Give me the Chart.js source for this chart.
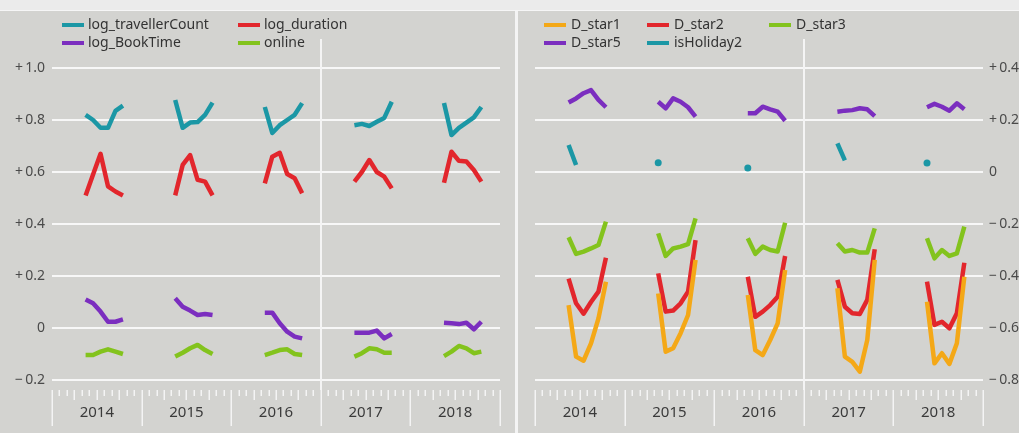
<!DOCTYPE html>
<html>
<head>
<meta charset="utf-8">
<script src="https://cdn.jsdelivr.net/npm/chart.js@4/dist/chart.umd.min.js"></script>
<style>
  html, body { margin: 0; padding: 0; }
  body { width: 1019px; height: 433px; overflow: hidden; position: relative; background: #d3d3d0; }
  #strip { position: absolute; left: 0; top: 0; width: 1019px; height: 10px; background: #ebebeb; border-bottom: 1px solid #f6f6f6; }
  #sep { position: absolute; left: 515px; top: 11px; width: 3px; height: 422px; background: #f4f4f4; }
  #cl { position: absolute; left: 0; top: 11px; }
  #cr { position: absolute; left: 517px; top: 11px; }
</style>
</head>
<body>
<div id="strip"></div>
<div id="sep"></div>
<canvas id="cl" width="512" height="422"></canvas>
<canvas id="cr" width="513" height="422"></canvas>
<script>
// ---------- data ----------
const years = [2014, 2015, 2016, 2017, 2018];
const months = [5, 6, 7, 8, 9, 10]; // May .. Oct
const leftTicks = [-0.2, 0, 0.2, 0.4, 0.6, 0.8, 1.0];
const rightTicks = [-0.8, -0.6, -0.4, -0.2, 0, 0.2, 0.4];
const markerYear = 2017;

const logTravellerCount = [
  [0.82, 0.80, 0.77, 0.77, 0.835, 0.855],
  [0.877, 0.77, 0.79, 0.792, 0.82, 0.867],
  [0.85, 0.75, 0.78, 0.80, 0.82, 0.865],
  [0.78, 0.785, 0.777, 0.793, 0.808, 0.87],
  [0.865, 0.742, 0.77, 0.79, 0.81, 0.85]
];
const logDuration = [
  [0.51, 0.59, 0.67, 0.545, 0.525, 0.51],
  [0.51, 0.627, 0.665, 0.57, 0.563, 0.51],
  [0.556, 0.659, 0.674, 0.592, 0.576, 0.518],
  [0.563, 0.60, 0.646, 0.60, 0.582, 0.537],
  [0.559, 0.678, 0.643, 0.64, 0.608, 0.563]
];
const logBookTime = [
  [0.11, 0.095, 0.063, 0.024, 0.024, 0.033],
  [0.114, 0.082, 0.067, 0.05, 0.054, 0.05],
  [0.059, 0.059, 0.018, -0.014, -0.033, -0.04],
  [-0.018, -0.018, -0.018, -0.01, -0.04, -0.023],
  [0.02, 0.018, 0.015, 0.02, -0.005, 0.024]
];
const online = [
  [-0.104, -0.104, -0.091, -0.082, -0.091, -0.1],
  [-0.11, -0.095, -0.078, -0.065, -0.085, -0.1],
  [-0.104, -0.095, -0.085, -0.082, -0.1, -0.104],
  [-0.11, -0.097, -0.078, -0.082, -0.095, -0.095],
  [-0.108, -0.091, -0.069, -0.078, -0.097, -0.091]
];

const dStar1 = [
  [-0.512, -0.71, -0.726, -0.659, -0.563, -0.422],
  [-0.467, -0.691, -0.678, -0.62, -0.55, -0.338],
  [-0.473, -0.685, -0.704, -0.646, -0.582, -0.377],
  [-0.447, -0.71, -0.73, -0.768, -0.646, -0.338],
  [-0.499, -0.736, -0.697, -0.738, -0.659, -0.403]
];
const dStar2 = [
  [-0.41, -0.505, -0.545, -0.50, -0.46, -0.33],
  [-0.39, -0.537, -0.533, -0.505, -0.46, -0.262],
  [-0.403, -0.557, -0.537, -0.512, -0.48, -0.323],
  [-0.415, -0.518, -0.543, -0.546, -0.492, -0.297],
  [-0.422, -0.588, -0.576, -0.601, -0.543, -0.349]
];
const dStar3 = [
  [-0.251, -0.315, -0.306, -0.294, -0.281, -0.191],
  [-0.236, -0.323, -0.294, -0.287, -0.277, -0.178],
  [-0.255, -0.315, -0.287, -0.3, -0.306, -0.195],
  [-0.274, -0.306, -0.3, -0.31, -0.31, -0.217],
  [-0.255, -0.332, -0.3, -0.323, -0.313, -0.21]
];
const dStar5 = [
  [0.267, 0.283, 0.303, 0.315, 0.277, 0.249],
  [0.27, 0.245, 0.283, 0.27, 0.249, 0.213],
  [0.226, 0.226, 0.251, 0.241, 0.232, 0.197],
  [0.232, 0.236, 0.238, 0.245, 0.241, 0.215],
  [0.249, 0.262, 0.251, 0.236, 0.264, 0.241]
];
const isHoliday2 = [
  [0.104, 0.027, null, null, null, null],
  [0.036, null, null, null, null, null],
  [0.015, null, null, null, null, null],
  [0.11, 0.045, null, null, null, null],
  [0.035, null, null, null, null, null]
];

// ---------- colours / fonts ----------
const C = { teal: '#1b97a5', red: '#e2262c', purple: '#7b2ebf', green: '#83c31d', orange: '#f4a817' };
const FONT = '"Noto Sans", "Open Sans", sans-serif';

function toPoints(series) {
  const pts = [];
  years.forEach((yr, yi) => {
    months.forEach((m, mi) => pts.push({ x: yr + (m - 0.5) / 12, y: series[yi][mi] }));
    pts.push({ x: yr + 0.999, y: null });
  });
  return pts;
}

function isolatedRadius(ctx) {
  const d = ctx.dataset.data, i = ctx.dataIndex;
  if (!d[i] || d[i].y == null) return 0;
  const pn = i === 0 || d[i - 1].y == null;
  const nn = i === d.length - 1 || d[i + 1].y == null;
  return (pn && nn) ? 3.5 : 0;
}

function ds(label, series, color) {
  return {
    label, data: toPoints(series), borderColor: color, backgroundColor: color,
    borderWidth: 4.5, pointRadius: isolatedRadius, pointHoverRadius: 0, pointBorderWidth: 0,
    borderJoinStyle: 'round', borderCapStyle: 'butt', spanGaps: false, tension: 0
  };
}

function fmt(v) {
  if (Math.abs(v) < 1e-9) return '0';
  return (v > 0 ? '+\u2009' : '\u2212\u2009') + Math.abs(v).toFixed(1);
}

const decor = {
  id: 'decor',
  beforeDatasetsDraw(chart) {
    const { ctx, chartArea } = chart;
    const xs = chart.scales.x;
    ctx.save();
    // vertical marker line
    ctx.strokeStyle = '#f4f4f4';
    ctx.lineWidth = 2;
    const mx = Math.round(xs.getPixelForValue(markerYear));
    ctx.beginPath(); ctx.moveTo(mx, 28); ctx.lineTo(mx, chartArea.bottom + 10); ctx.stroke();
    // month / quarter / year tick marks
    ctx.lineWidth = 1.5;
    ctx.strokeStyle = '#f4f4f4';
    const top = chartArea.bottom + 10;
    for (let yr = years[0]; yr <= years[years.length - 1] + 1; yr++) {
      for (let m = 0; m < 12; m++) {
        if (yr > years[years.length - 1] && m > 0) break;
        const x = Math.round(xs.getPixelForValue(yr + m / 12)) + 0.25;
        const len = m === 0 ? 36 : (m % 3 === 0 ? 10 : 6);
        ctx.beginPath(); ctx.moveTo(x, top); ctx.lineTo(x, top + len); ctx.stroke();
      }
    }
    ctx.restore();
  },
  afterDraw(chart, args, opts) {
    const { ctx } = chart;
    ctx.save();
    ctx.font = '14px ' + FONT;
    ctx.textBaseline = 'middle';
    chart.data.datasets.forEach((d, i) => {
      const col = i % opts.cols, row = Math.floor(i / opts.cols);
      const x = opts.colX[col], y = opts.rowY[row];
      ctx.fillStyle = d.borderColor;
      ctx.fillRect(x, y - 2, 22, 4);
      ctx.fillStyle = '#333';
      ctx.fillText(d.label, x + opts.textOff, y + 0.5);
    });
    ctx.restore();
  }
};

function makeChart(el, datasets, yTicks, yPos, padding, yWidth, legendOpts) {
  return new Chart(el, {
    type: 'line',
    data: { datasets },
    plugins: [decor],
    options: {
      responsive: false, animation: false, events: [],
      layout: { padding },
      plugins: { legend: { display: false }, tooltip: { enabled: false }, decor: legendOpts },
      scales: {
        x: {
          type: 'linear', min: years[0], max: years[years.length - 1] + 1,
          afterBuildTicks: s => { s.ticks = years.map(y => ({ value: y + 0.5 })); },
          afterFit: s => { s.height = 53; },
          grid: { display: false, drawTicks: false },
          border: { display: false },
          ticks: { callback: v => String(Math.round(v - 0.5)), color: '#3a3a3a', font: { family: FONT, size: 15 }, padding: 24, maxRotation: 0, autoSkip: false }
        },
        y: {
          position: yPos, min: yTicks[0], max: yTicks[yTicks.length - 1],
          afterBuildTicks: s => { s.ticks = yTicks.map(v => ({ value: v })); },
          afterFit: s => { s.width = yWidth; },
          grid: { color: '#f7f7f7', lineWidth: 2, drawTicks: false },
          border: { display: false },
          ticks: { callback: fmt, color: '#4a4a4a', font: { family: FONT, size: 14 }, padding: yPos === 'left' ? 7 : 6 }
        }
      }
    }
  });
}

makeChart(document.getElementById('cl'), [
  ds('log_travellerCount', logTravellerCount, C.teal),
  ds('log_duration', logDuration, C.red),
  ds('log_BookTime', logBookTime, C.purple),
  ds('online', online, C.green)
], leftTicks, 'left', { top: 57, right: 12, left: 0, bottom: 0 }, 52,
  { cols: 2, colX: [62, 238], rowY: [14, 32], textOff: 26 });

makeChart(document.getElementById('cr'), [
  ds('D_star1', dStar1, C.orange),
  ds('D_star2', dStar2, C.red),
  ds('D_star3', dStar3, C.green),
  ds('D_star5', dStar5, C.purple),
  ds('isHoliday2', isHoliday2, C.teal)
], rightTicks, 'right', { top: 57, right: 0, left: 18, bottom: 0 }, 47,
  { cols: 3, colX: [27, 130, 252], rowY: [14, 32], textOff: 27 });
</script>
</body>
</html>
